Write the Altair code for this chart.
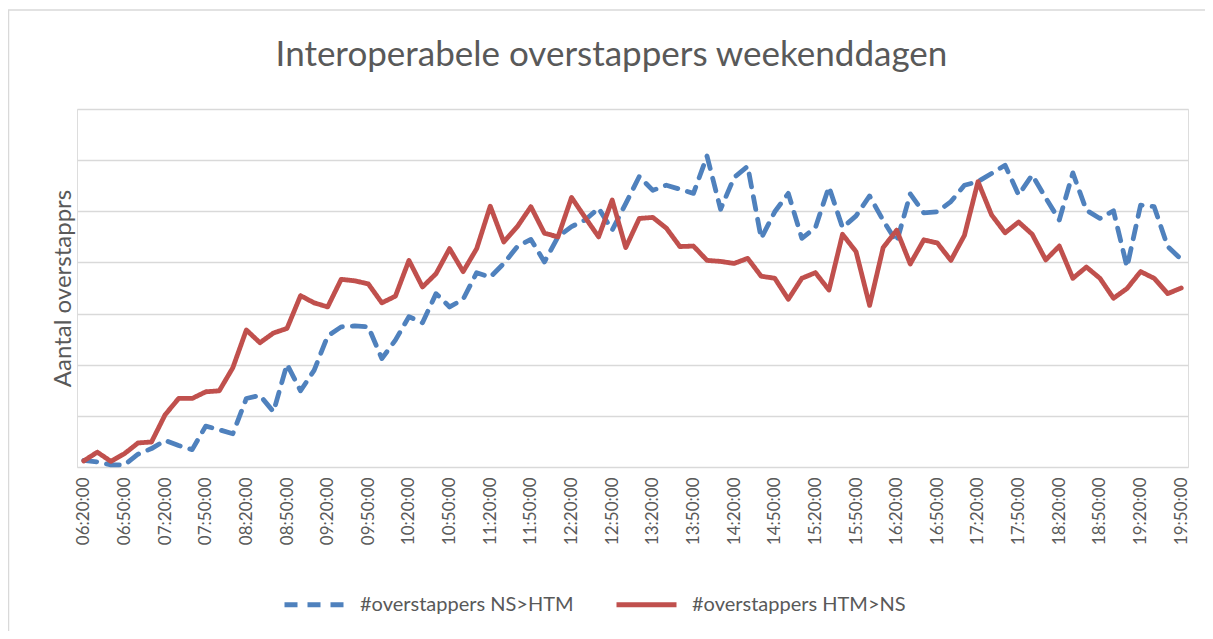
import altair as alt
import pandas as pd

# Category axis: one point every 10 minutes, 06:20:00 .. 19:50:00
times = [f"{6 + (20 + 10 * i) // 60:02d}:{(20 + 10 * i) % 60:02d}:00" for i in range(82)]
tick_labels = times[::3]

series_names = ["#overstappers NS>HTM", "#overstappers HTM>NS"]

ns_htm = [1.3, 1.0, 0.4, 0.4, 2.5, 3.6, 5.2, 4.2, 3.4, 8.0,
          7.3, 6.5, 13.4, 14.0, 10.8, 20.1, 14.9, 18.9, 25.6, 27.4,
          27.6, 27.4, 21.2, 24.8, 29.4, 28.2, 33.9, 31.3, 32.8, 38.0,
          37.1, 39.8, 43.1, 44.5, 40.1, 45.0, 47.0, 48.3, 50.6, 46.3,
          51.5, 56.8, 54.1, 55.1, 54.3, 53.5, 60.8, 50.4, 56.6, 58.8,
          44.7, 49.9, 53.5, 44.7, 46.8, 54.8, 46.8, 49.1, 53.0, 48.2,
          44.0, 53.4, 49.7, 49.9, 51.9, 55.1, 55.8, 57.4, 59.0, 53.2,
          57.1, 52.6, 48.3, 57.5, 50.2, 48.6, 50.1, 39.1, 51.2, 50.9,
          43.1, 40.6]

htm_ns = [1.2, 2.9, 1.1, 2.6, 4.7, 4.9, 10.2, 13.4, 13.4, 14.7,
          14.9, 19.4, 26.8, 24.3, 26.2, 27.1, 33.5, 32.1, 31.3, 36.7,
          36.4, 35.8, 32.1, 33.4, 40.4, 35.2, 37.8, 42.7, 38.2, 42.7,
          51.0, 44.0, 47.0, 50.9, 45.7, 45.0, 52.7, 48.8, 45.0, 52.2,
          42.9, 48.6, 48.8, 46.7, 43.1, 43.2, 40.4, 40.2, 39.8, 40.8,
          37.3, 36.9, 32.8, 36.9, 38.0, 34.6, 45.5, 42.1, 31.6, 42.9,
          46.3, 39.7, 44.4, 43.8, 40.4, 45.3, 55.8, 49.3, 45.8, 47.9,
          45.5, 40.5, 43.2, 36.9, 39.1, 36.9, 33.0, 34.9, 38.2, 36.9,
          33.9, 35.0]

y_grid = [0, 10, 20, 30, 40, 50, 60, 70]

df = pd.DataFrame({
    "time": times + times,
    "value": ns_htm + htm_ns,
    "series": [series_names[0]] * len(times) + [series_names[1]] * len(times),
})

TXT = "#595959"
GRID = "#d9d9d9"
FONT = "Lato"

legend = alt.Legend(
    title=None, orient="none", legendX=205, legendY=463, direction="horizontal",
    symbolType="stroke", symbolSize=3600, symbolStrokeWidth=4.8,
    labelFont=FONT, labelFontSize=20, labelColor=TXT, labelOffset=13,
    columnPadding=32, labelLimit=400,
)

lines = alt.Chart(df).mark_line(
    strokeWidth=4.8, strokeCap="round", strokeJoin="round"
).encode(
    x=alt.X("time:N", sort=times,
            scale=alt.Scale(type="point", padding=0.5),
            axis=alt.Axis(values=tick_labels, labelAngle=270, title=None,
                          domain=False, ticks=False, grid=False,
                          labelPadding=10, labelOverlap=False,
                          labelFont=FONT, labelFontSize=17, labelColor=TXT)),
    y=alt.Y("value:Q", scale=alt.Scale(domain=[0, 70], nice=False),
            axis=alt.Axis(values=y_grid, labels=False, ticks=False, domain=False,
                          grid=True, gridColor=GRID, gridWidth=1.3,
                          title="Aantal overstapprs", titleFont=FONT,
                          titleFontSize=24, titleFontWeight="normal",
                          titleColor=TXT, titlePadding=2)),
    color=alt.Color("series:N", sort=series_names,
                    scale=alt.Scale(domain=series_names, range=["#4F81BD", "#C0504D"]),
                    legend=legend),
    strokeDash=alt.StrokeDash("series:N", sort=series_names,
                              scale=alt.Scale(domain=series_names, range=[[13, 10], [1, 0]]),
                              legend=legend),
)

frame = pd.DataFrame({"k": [0]})
top_border = alt.Chart(frame).mark_rule(color=GRID, strokeWidth=1.5, clip=False).encode(
    x=alt.value(-69), x2=alt.value(1130), y=alt.value(-99), y2=alt.value(-99))
left_border = alt.Chart(frame).mark_rule(color=GRID, strokeWidth=1.5, clip=False).encode(
    x=alt.value(-68.5), x2=alt.value(-68.5), y=alt.value(-99), y2=alt.value(530))

chart = alt.layer(top_border, left_border, lines).properties(
    width=1111, height=358,
    autosize=alt.AutoSizeParams(type="none"),
    padding={"left": 69, "top": 101, "right": 17, "bottom": 164},
    title=alt.Title("Interoperabele overstappers weekenddagen", font=FONT,
                    fontSize=35, fontWeight="normal", color=TXT,
                    anchor="middle", offset=33, dx=-21, dy=97),
).configure_view(stroke=None).configure(background="white")

chart.save("out.html", embed_options={"renderer": "svg", "actions": False})
